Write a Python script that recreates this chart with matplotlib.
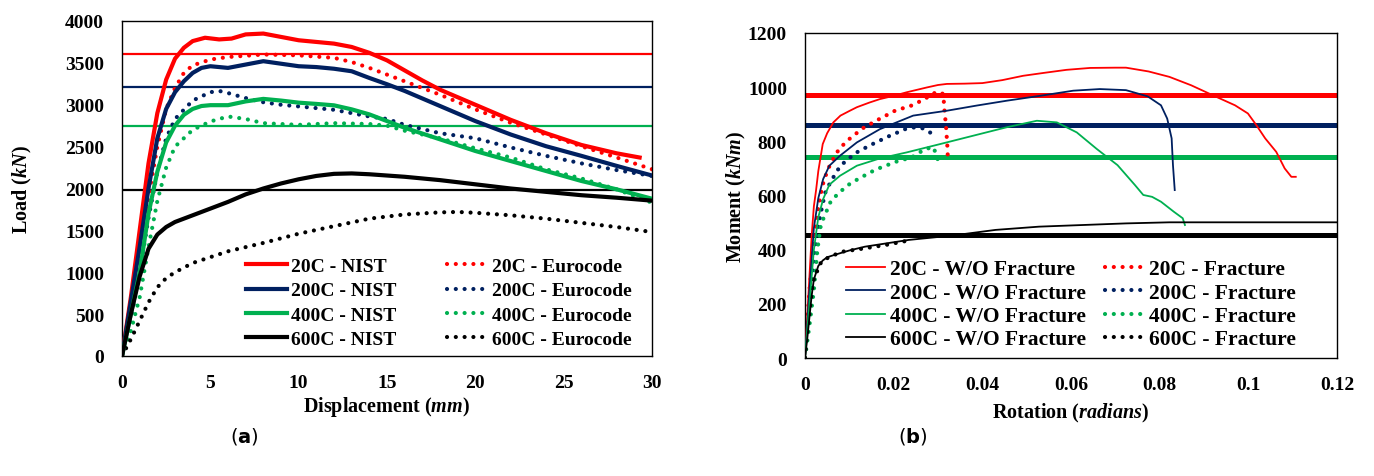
import matplotlib
matplotlib.use("Agg")
import matplotlib.pyplot as plt

plt.rcParams["font.family"] = "Liberation Serif"
plt.rcParams["font.weight"] = "bold"
plt.rcParams["axes.labelweight"] = "bold"
plt.rcParams["mathtext.fontset"] = "custom"
plt.rcParams["mathtext.it"] = "Liberation Serif:italic:bold"
plt.rcParams["mathtext.rm"] = "Liberation Serif:bold"
plt.rcParams["mathtext.bf"] = "DejaVu Sans:bold"

RED, BLUE, GREEN, BLACK = "#ff0000", "#002060", "#00b050", "#000000"
temps = ["20C", "200C", "400C", "600C"]
colors = [RED, BLUE, GREEN, BLACK]

# ---- (a) load vs displacement ----
nist_x = [
    [0, 0.5, 1, 1.5, 2, 2.5, 3, 3.5, 4, 4.7, 5.5, 6.2, 7, 8, 9, 10, 11, 12, 13, 14, 15, 16, 17, 18, 19, 20, 22, 24, 26, 28, 29.3],
    [0, 0.5, 1, 1.5, 2, 2.5, 3, 3.5, 4, 4.5, 5, 6, 7, 8, 9, 10, 11, 12, 13, 14, 15, 16, 18, 20, 22, 24, 26, 28, 30],
    [0, 0.5, 1, 1.5, 2, 2.5, 3, 3.5, 4, 4.5, 5, 6, 7, 8, 9, 10, 11, 12, 13, 14, 15, 16, 18, 20, 22, 24, 26, 28, 30],
    [0, 0.5, 1, 1.5, 2, 2.5, 3, 4, 5, 6, 7, 8, 9, 10, 11, 12, 13, 14, 16, 18, 20, 22, 24, 26, 28, 30],
]
nist_y = [
    [0, 700, 1500, 2300, 2900, 3300, 3550, 3680, 3760, 3800, 3780, 3790, 3840, 3850, 3810, 3770, 3750, 3730, 3690, 3620, 3530, 3410, 3290, 3180, 3090, 3000, 2820, 2660, 2520, 2420, 2370],
    [0, 650, 1300, 2000, 2600, 2950, 3150, 3280, 3380, 3440, 3460, 3440, 3480, 3520, 3490, 3460, 3450, 3430, 3400, 3320, 3245, 3165, 2985, 2805, 2645, 2505, 2390, 2270, 2155],
    [0, 500, 1000, 1700, 2200, 2550, 2750, 2880, 2950, 2985, 2995, 2995, 3040, 3070, 3050, 3025, 3010, 2993, 2945, 2885, 2805, 2725, 2587, 2448, 2328, 2209, 2090, 1990, 1878],
    [0, 500, 950, 1280, 1450, 1540, 1600, 1680, 1760, 1840, 1930, 2000, 2060, 2110, 2150, 2175, 2180, 2170, 2140, 2100, 2050, 2000, 1960, 1920, 1890, 1855],
]
euro_x = [
    [0, 0.5, 1, 1.5, 2, 2.5, 3, 3.5, 4, 5, 6, 8, 10, 12, 13, 14, 16, 18, 20, 22, 24, 26, 28, 30],
    [0, 0.5, 1, 1.5, 2, 2.5, 3, 4, 5, 5.5, 6, 7, 8, 9, 10, 11, 12, 13, 14, 15, 16, 18, 20, 22, 24, 26, 28, 30],
    [0, 0.5, 1, 1.5, 2, 2.5, 3, 4, 5, 6, 7, 8, 10, 12, 14, 15, 16, 18, 20, 22, 24, 26, 28, 30],
    [0, 0.5, 1, 1.5, 2, 2.5, 3, 4, 5, 6, 8, 10, 12, 14, 16, 18, 19, 20, 22, 24, 26, 28, 30],
]
euro_y = [
    [0, 550, 1200, 1900, 2500, 2950, 3200, 3380, 3470, 3540, 3570, 3600, 3590, 3560, 3510, 3440, 3280, 3120, 2945, 2785, 2645, 2505, 2370, 2230],
    [0, 450, 1000, 1650, 2200, 2600, 2830, 3050, 3150, 3165, 3140, 3080, 3030, 3000, 2980, 2960, 2940, 2900, 2860, 2830, 2760, 2660, 2600, 2490, 2390, 2300, 2220, 2150],
    [0, 300, 700, 1300, 1850, 2250, 2500, 2700, 2800, 2860, 2830, 2780, 2760, 2780, 2770, 2750, 2690, 2600, 2480, 2370, 2229, 2120, 1990, 1830],
    [0, 200, 420, 640, 820, 930, 1000, 1110, 1180, 1250, 1350, 1460, 1550, 1640, 1690, 1715, 1720, 1710, 1680, 1640, 1590, 1540, 1480],
]
cap_a = [3610, 3210, 2750, 1980]

# ---- (b) moment vs rotation ----
wo_x = [
    [0, 0.0005, 0.001, 0.0015, 0.002, 0.0025, 0.003, 0.004, 0.005, 0.0064, 0.008, 0.01, 0.0117, 0.0145, 0.0169, 0.02, 0.0229, 0.0275, 0.03, 0.032, 0.036, 0.04, 0.0445, 0.0492, 0.054, 0.059, 0.0643, 0.07, 0.0724, 0.0775, 0.0822, 0.0871, 0.092, 0.097, 0.0999, 0.1018, 0.1038, 0.1063, 0.1082, 0.1097, 0.1107],
    [0, 0.001, 0.002, 0.003, 0.0041, 0.0055, 0.0079, 0.0117, 0.0169, 0.0244, 0.032, 0.0387, 0.0455, 0.053, 0.0605, 0.0665, 0.0724, 0.0773, 0.0803, 0.0817, 0.0827, 0.083, 0.0834],
    [0, 0.001, 0.002, 0.003, 0.0041, 0.0055, 0.0079, 0.0117, 0.0169, 0.0229, 0.0305, 0.038, 0.0455, 0.0523, 0.0568, 0.0613, 0.0658, 0.0705, 0.0744, 0.0763, 0.0783, 0.0803, 0.0832, 0.0852, 0.0857],
    [0, 0.0005, 0.001, 0.0015, 0.002, 0.003, 0.004, 0.005, 0.0067, 0.01, 0.0135, 0.0234, 0.0332, 0.043, 0.0528, 0.0626, 0.0724, 0.0822, 0.092, 0.12],
]
wo_y = [
    [0, 150, 300, 450, 560, 620, 690, 790, 830, 870, 895, 912, 926, 943, 956, 968, 981, 999, 1008, 1012, 1013, 1015, 1026, 1042, 1053, 1064, 1071, 1072, 1072, 1058, 1038, 1007, 970, 933, 903, 860, 811, 761, 700, 669, 669],
    [0, 250, 480, 590, 661, 710, 747, 796, 845, 895, 913, 932, 950, 968, 987, 993, 989, 966, 933, 884, 811, 712, 620],
    [0, 200, 400, 520, 587, 640, 673, 710, 737, 759, 790, 821, 852, 876, 870, 833, 772, 712, 639, 602, 595, 577, 540, 516, 491],
    [0, 70, 150, 230, 290, 340, 360, 372, 381, 397, 411, 436, 452, 473, 485, 491, 497, 501, 501, 501],
]
fr_x = [
    [0, 0.001, 0.002, 0.003, 0.004, 0.005, 0.0059, 0.0077, 0.0098, 0.013, 0.0165, 0.0203, 0.024, 0.0265, 0.0297, 0.0312, 0.0314, 0.0318, 0.0321, 0.0322],
    [0, 0.001, 0.002, 0.003, 0.004, 0.0047, 0.0068, 0.008, 0.0113, 0.015, 0.0188, 0.0226, 0.0248, 0.0265, 0.0284],
    [0, 0.001, 0.002, 0.0028, 0.0035, 0.0041, 0.0058, 0.0073, 0.0088, 0.0105, 0.0124, 0.0143, 0.0163, 0.0182, 0.0201, 0.0218, 0.0237, 0.0253, 0.0271, 0.029, 0.0303],
    [0, 0.0003, 0.0008, 0.0013, 0.0018, 0.0027, 0.0037, 0.0057, 0.0086, 0.0135, 0.0184, 0.0234],
]
fr_y = [
    [0, 250, 420, 560, 640, 690, 722, 772, 806, 848, 880, 913, 932, 952, 983, 975, 925, 858, 784, 747],
    [0, 200, 380, 490, 570, 618, 679, 710, 756, 788, 818, 845, 852, 848, 831],
    [0, 120, 250, 400, 483, 513, 578, 604, 626, 648, 664, 682, 698, 710, 722, 732, 737, 753, 772, 778, 716],
    [0, 61, 135, 209, 282, 319, 356, 375, 393, 405, 418, 434],
]
cap_b = [970, 862, 743, 454]

W, H = 1374, 477
fig = plt.figure(figsize=(W / 100, H / 100), dpi=100)
ax1 = fig.add_axes([122 / W, 1 - 357 / H, 530 / W, 335 / H])
ax2 = fig.add_axes([805 / W, 1 - 359 / H, 532 / W, 325 / H])

dot = dict(linestyle=(0, (0.01, 2.1)), dash_capstyle="round")

for i, c in enumerate(colors):
    ax1.axhline(cap_a[i], color=c, lw=1.6, zorder=1)
for i, c in enumerate(colors):
    ax1.plot(nist_x[i], nist_y[i], color=c, lw=3.0, label=f"{temps[i]} - NIST", zorder=3)
for i, c in enumerate(colors):
    ax1.plot(euro_x[i], euro_y[i], color=c, lw=3.0, label=f"{temps[i]} - Eurocode", zorder=2, **dot)

ax1.set_xlim(0, 30)
ax1.set_ylim(0, 4000)
ax1.set_xticks(range(0, 31, 5))
ax1.set_yticks(range(0, 4001, 500))
ax1.set_xlabel(r"Displacement ($mm$)", fontsize=14.5, labelpad=2)
ax1.set_ylabel(r"Load ($kN$)", fontsize=14.5, labelpad=22)
ax1.legend(ncol=2, loc="lower left", bbox_to_anchor=(0.22, 0.0), frameon=False,
           fontsize=14, handlelength=2.1, handletextpad=0.2, columnspacing=2.6,
           labelspacing=0.35, borderpad=0.2, borderaxespad=0.2)

for i, c in enumerate(colors):
    ax2.axhline(cap_b[i], color=c, lw=3.6, zorder=1)
for i, c in enumerate(colors):
    ax2.plot(wo_x[i], wo_y[i], color=c, lw=1.3, label=f"{temps[i]} - W/O Fracture", zorder=3)
for i, c in enumerate(colors):
    ax2.plot(fr_x[i], fr_y[i], color=c, lw=3.0, label=f"{temps[i]} - Fracture", zorder=2, **dot)

ax2.set_xlim(0, 0.12)
ax2.set_ylim(0, 1200)
ax2.set_xticks([0, 0.02, 0.04, 0.06, 0.08, 0.1, 0.12])
ax2.set_xticklabels(["0", "0.02", "0.04", "0.06", "0.08", "0.1", "0.12"])
ax2.set_yticks(range(0, 1201, 200))
ax2.set_xlabel(r"Rotation ($radians$)", fontsize=14.5, labelpad=6)
ax2.set_ylabel(r"Moment ($kNm$)", fontsize=14.5, labelpad=0)
ax2.legend(ncol=2, loc="lower left", bbox_to_anchor=(0.06, 0.0), frameon=False,
           fontsize=15.5, handlelength=1.85, handletextpad=0.2, columnspacing=0.9,
           labelspacing=0.15, borderpad=0.2, borderaxespad=0.2)

for ax in (ax1, ax2):
    ax.tick_params(length=0, labelsize=14, pad=13)
    for s in ax.spines.values():
        s.set_linewidth(1.0)

fig.text(244 / W, 1 - 437 / H, r"($\mathbf{a}$)", family="DejaVu Sans", fontweight="normal",
         fontsize=14, ha="center", va="center")
fig.text(913 / W, 1 - 437 / H, r"($\mathbf{b}$)", family="DejaVu Sans", fontweight="normal",
         fontsize=14, ha="center", va="center")

fig.savefig("out.png", dpi=100)
